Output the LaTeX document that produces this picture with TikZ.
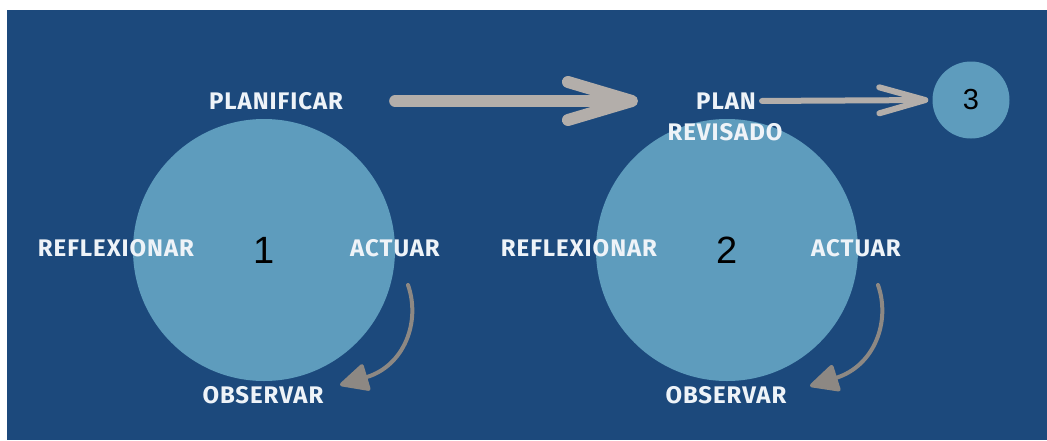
\documentclass[tikz,border=0pt]{standalone}
\usepackage{fontspec}
\setmainfont{Liberation Sans}
\newfontfamily\labelfont[LetterSpace=4]{Fira Sans}
\usetikzlibrary{arrows.meta,calc}
\definecolor{bgblue}{HTML}{1C497C}
\definecolor{circblue}{HTML}{5E9CBD}
\definecolor{lightarrow}{HTML}{B3AEAA}
\definecolor{darkarrow}{HTML}{8D8883}
\definecolor{labelwhite}{HTML}{EEF3F8}
\tikzset{
  lbl/.style={text=labelwhite, font=\labelfont\bfseries\fontsize{24}{24}\selectfont, inner sep=0pt},
  bigcirc/.style={circle, fill=circblue, minimum size=262pt, inner sep=0pt},
  smallcirc/.style={circle, fill=circblue, minimum size=77pt, inner sep=0pt},
  num/.style={text=black, font=\fontsize{38}{38}\selectfont},
  bigarrow/.style={draw=lightarrow, line width=12pt, line cap=round,
    -{Straight Barb[length=64pt, width=38pt, round]}},
  medarrow/.style={draw=lightarrow, line width=6pt, line cap=round,
    -{Straight Barb[length=46pt, width=26pt, round]}},
  curvarrow/.style={draw=darkarrow, line width=4pt, line cap=round,
    -{Triangle[length=31pt, width=29pt, round]}}
}
\begin{document}
\begin{tikzpicture}[x=1pt,y=-1pt]
\fill[white] (0,0) rectangle (1047,440);
\fill[bgblue] (7,10) rectangle (1047,440);
\useasboundingbox (0,0) rectangle (1047,440);
% circles
\node[bigcirc] (c1) at (264,250) {};
\node[bigcirc] (c2) at (727,250) {};
\node[smallcirc] (c3) at (971,100) {};
\node[num] (n1) at (264,250) {1};
\node[num] (n2) at (727,250) {2};
\node[num, font=\fontsize{29}{29}\selectfont] (n3) at (971,100) {3};
% labels cycle 1
\node[lbl] (plan1) at (276,101) {PLANIFICAR};
\node[lbl] (refl1) at (116,248) {REFLEXIONAR};
\node[lbl] (act1) at (395,248) {ACTUAR};
\node[lbl] (obs1) at (263,395) {OBSERVAR};
% labels cycle 2
\node[lbl] (planA) at (726,101) {PLAN};
\node[lbl] (planB) at (725,132) {REVISADO};
\node[lbl] (refl2) at (579,248) {REFLEXIONAR};
\node[lbl] (act2) at (856,248) {ACTUAR};
\node[lbl] (obs2) at (726,395) {OBSERVAR};
% arrows
\draw[bigarrow, shorten <=52pt, shorten >=58pt] (plan1.east) -- (planA.west);
\draw[medarrow, shorten <=6pt, shorten >=4pt] (planA.east) -- (c3.west);
\coordinate (s1) at (408,285);
\coordinate (e1) at (340,385);
\coordinate (s2) at (878,285);
\coordinate (e2) at (810,386);
\draw[curvarrow] (s1) .. controls (421,322) and (404,366) .. (e1);
\draw[curvarrow] (s2) .. controls (891,322) and (874,366) .. (e2);
\end{tikzpicture}
\end{document}
